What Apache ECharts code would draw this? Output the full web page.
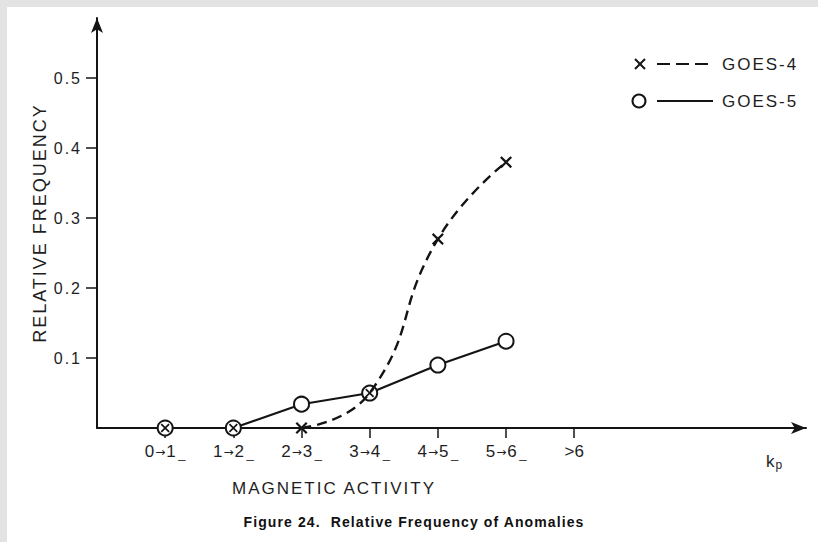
<!DOCTYPE html>
<html><head><meta charset="utf-8">
<script src="https://cdn.jsdelivr.net/npm/echarts@6/dist/echarts.min.js"></script>
<style>
html,body{margin:0;padding:0;background:#e3e3e3;}
#chart{width:818px;height:542px;}
#chart text[style*="Arial"]{letter-spacing:2px;}
#chart text[style*="Helvetica"]{letter-spacing:1.1px;}
</style></head><body><div id="chart"></div>
<script>
// ---- data ----
const xLabels = ['0→1_', '1→2_', '2→3_', '3→4_', '4→5_', '5→6_', '>6'];
const goes4 = [0, 0, 0, 0.05, 0.27, 0.38];
const goes5 = [0, 0, 0.034, 0.05, 0.09, 0.124];
const yTicks = [0.1, 0.2, 0.3, 0.4, 0.5];
const seriesNames = ['GOES-4', 'GOES-5'];
const xAxisTitle = 'MAGNETIC ACTIVITY';
const yAxisTitle = 'RELATIVE FREQUENCY';
const caption = 'Figure 24.  Relative Frequency of Anomalies';

// ---- derived ----
const xPositions = xLabels.map((_, i) => i + 1);
const pts4 = goes4.map((v, i) => [i + 1, v]);
const pts5 = goes5.map((v, i) => [i + 1, v]);
let lastZero = 0;
goes4.forEach((v, i) => { if (v === 0) lastZero = i; });
const curve4 = pts4.slice(lastZero);

const ink = '#141414';
const txt = '#1e1e1e';
const FONT = '"Liberation Sans", Arial, sans-serif';      // spaced (typewriter look)
const FONT_T = '"Liberation Sans", sans-serif';          // tight (rich tokens)
const FONT_A = '"DejaVu Sans", sans-serif';              // arrow glyph
const FONT_C = '"Liberation Sans", Helvetica, sans-serif'; // caption
const xSym = 'path://M0,1.3L1.3,0L5,3.7L8.7,0L10,1.3L6.3,5L10,8.7L8.7,10L5,6.3L1.3,10L0,8.7L3.7,5Z';

function fmtX(v) {
  const s = xLabels[v - 1];
  if (!s) return '';
  let out = '';
  for (const ch of s) {
    if (ch === '→') out += '{r|→}';
    else if (ch === '_') out += '{g| }{u|_}';
    else out += '{a|' + ch + '}';
  }
  return out;
}

const chart = echarts.init(document.getElementById('chart'), null, { renderer: 'svg' });
chart.setOption({
  animation: false,
  backgroundColor: '#e3e3e3',
  textStyle: { fontFamily: FONT, color: txt },
  grid: { left: 97, right: 12, top: 18, bottom: 114, containLabel: false },
  xAxis: {
    type: 'value', min: 0, max: 10.4,
    splitLine: { show: false },
    axisLine: { show: true, symbol: ['none', 'arrow'], symbolSize: [9, 15], lineStyle: { color: ink, width: 2 } },
    axisTick: { show: true, customValues: xPositions, length: 10, inside: false, lineStyle: { color: ink, width: 1.5 } },
    axisLabel: {
      customValues: xPositions, formatter: fmtX, margin: 15,
      rich: {
        a: { fontSize: 17, fontFamily: FONT_T, color: txt },
        r: { fontSize: 12, fontFamily: FONT_A, color: txt, padding: [0, 1, 0, 1] },
        g: { fontSize: 9, fontFamily: FONT_T },
        u: { fontSize: 13, fontFamily: FONT_T, color: txt, verticalAlign: 'bottom' }
      }
    }
  },
  yAxis: {
    type: 'value', min: 0, max: 0.586,
    splitLine: { show: false },
    axisLine: { show: true, symbol: ['none', 'arrow'], symbolSize: [9, 15], lineStyle: { color: ink, width: 2 } },
    axisTick: { show: true, customValues: yTicks, length: 11, inside: false, lineStyle: { color: ink, width: 1.5 } },
    axisLabel: { customValues: yTicks, formatter: v => v.toFixed(1), fontSize: 16, margin: 15, color: txt, fontFamily: FONT },
    name: yAxisTitle, nameLocation: 'middle', nameGap: 45,
    nameTextStyle: { fontSize: 18, color: txt, fontFamily: FONT }
  },
  series: [
    {
      name: seriesNames[1], type: 'line', data: pts5, z: 3,
      symbol: 'circle', symbolSize: 15,
      itemStyle: { color: '#ffffff', borderColor: ink, borderWidth: 2 },
      lineStyle: { color: ink, width: 2.2 }
    },
    {
      name: seriesNames[0], type: 'line', data: curve4, z: 4,
      smooth: 0.5, showSymbol: false,
      lineStyle: { color: ink, width: 2.4, type: [10, 6] }
    },
    {
      name: seriesNames[0], type: 'line', data: pts4, z: 5,
      symbol: xSym,
      symbolSize: (val, p) => (goes5[p.dataIndex] === val[1] ? 9 : 12),
      itemStyle: { color: ink },
      lineStyle: { opacity: 0, width: 0 }
    }
  ],
  graphic: [
    { type: 'rect', shape: { x: 7, y: 7, width: 811, height: 535 }, style: { fill: '#ffffff' }, z: -10, silent: true },
    // legend
    { type: 'line', shape: { x1: 635, y1: 59, x2: 645, y2: 69 }, style: { stroke: ink, lineWidth: 2 }, z: 10 },
    { type: 'line', shape: { x1: 645, y1: 59, x2: 635, y2: 69 }, style: { stroke: ink, lineWidth: 2 }, z: 10 },
    { type: 'line', shape: { x1: 657, y1: 64, x2: 713, y2: 64 }, style: { stroke: ink, lineWidth: 2.2, lineDash: [13, 6] }, z: 10 },
    { type: 'text', x: 722, y: 64, style: { text: seriesNames[0], fontSize: 17, fontFamily: FONT, fill: txt, verticalAlign: 'middle', align: 'left' }, z: 10 },
    { type: 'circle', shape: { cx: 639, cy: 101, r: 6.5 }, style: { fill: '#fff', stroke: ink, lineWidth: 2 }, z: 10 },
    { type: 'line', shape: { x1: 657, y1: 101, x2: 713, y2: 101 }, style: { stroke: ink, lineWidth: 2.2 }, z: 10 },
    { type: 'text', x: 722, y: 101, style: { text: seriesNames[1], fontSize: 17, fontFamily: FONT, fill: txt, verticalAlign: 'middle', align: 'left' }, z: 10 },
    // axis titles
    { type: 'text', x: 232, y: 488, style: { text: xAxisTitle, fontSize: 17, fontFamily: FONT, fill: txt, verticalAlign: 'middle', align: 'left' }, z: 10 },
    { type: 'text', x: 766, y: 461, style: { text: '{k|k}{p|p}', fontFamily: FONT_T, fill: txt, verticalAlign: 'middle', align: 'left',
        rich: { k: { fontSize: 17, fontFamily: FONT_T, fill: txt }, p: { fontSize: 12, fontFamily: FONT_T, fill: txt, verticalAlign: 'bottom', padding: [8, 0, 0, 1] } } }, z: 10 },
    { type: 'text', x: 414, y: 522, style: { text: caption, fontSize: 14, fontWeight: 'bold', fontFamily: FONT_C, fill: '#111', verticalAlign: 'middle', align: 'center' }, z: 10 }
  ]
});
</script></body></html>
